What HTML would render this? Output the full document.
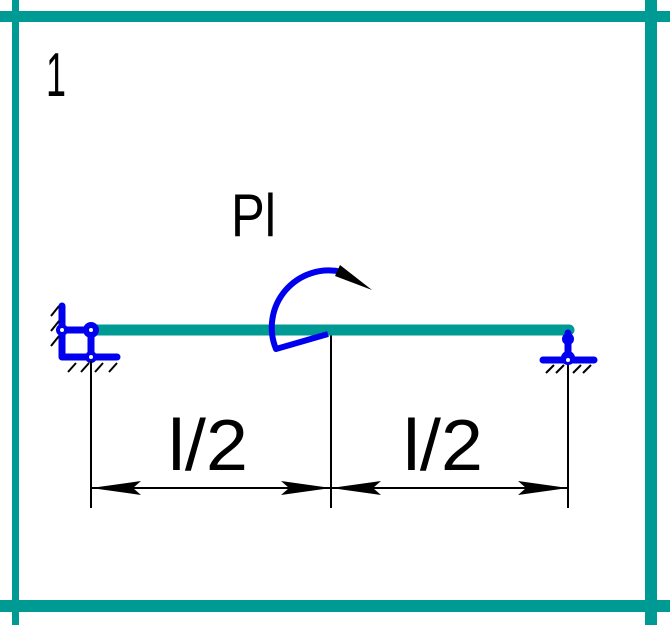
<!DOCTYPE html>
<html><head><meta charset="utf-8"><style>
html,body{margin:0;padding:0;background:#fff;}
svg{display:block;}
text{font-family:"Liberation Sans",sans-serif;fill:#000;}
</style></head><body>
<svg width="670" height="625" viewBox="0 0 670 625" xmlns="http://www.w3.org/2000/svg">
<rect x="0" y="11" width="670" height="11" fill="#009a94"/>
<rect x="0" y="600" width="670" height="12" fill="#009a94"/>
<rect x="12" y="0" width="7" height="625" fill="#009a94"/>
<rect x="645" y="0" width="12" height="625" fill="#009a94"/>
<text x="46" y="96" font-size="62" textLength="20" lengthAdjust="spacingAndGlyphs">1</text>
<g stroke="#000" stroke-width="2" fill="none">
<line x1="91" y1="356" x2="91" y2="508"/>
<line x1="331" y1="335" x2="331" y2="508"/>
<line x1="568" y1="360" x2="568" y2="508"/>
<line x1="91" y1="488" x2="568" y2="488"/>
</g>
<g fill="#000">
<polygon points="91,488 141,481 133,488 141,495"/>
<polygon points="331,488 281,481 289,488 281,495"/>
<polygon points="331,488 381,481 373,488 381,495"/>
<polygon points="568,488 518,481 526,488 518,495"/>
</g>
<text x="168" y="470" font-size="72" textLength="80" lengthAdjust="spacingAndGlyphs">l/2</text>
<text x="403" y="470" font-size="72" textLength="80" lengthAdjust="spacingAndGlyphs">l/2</text>
<text x="231" y="236" font-size="60" textLength="45" lengthAdjust="spacingAndGlyphs">Pl</text>
<line x1="91" y1="330" x2="569" y2="330" stroke="#009a94" stroke-width="11" stroke-linecap="round"/>
<path d="M328,334 L276,349 A57,57 0 0 1 342,272" stroke="#0000ee" stroke-width="6" fill="none" stroke-linejoin="round"/>
<polygon points="340,265 372,290 335,276" fill="#000"/>
<g stroke="#0000ee" stroke-width="7" fill="none" stroke-linecap="round">
<line x1="62" y1="306" x2="62" y2="356"/>
<line x1="62" y1="357" x2="117" y2="357"/>
<line x1="62" y1="330" x2="91" y2="330"/>
<line x1="91" y1="330" x2="91" y2="356"/>
</g>
<g fill="#0000ee"><circle cx="62" cy="330" r="6"/><circle cx="91" cy="330" r="8"/><circle cx="91" cy="357" r="6"/></g>
<g fill="#fff"><circle cx="62" cy="330" r="2"/><circle cx="91" cy="330" r="2"/><circle cx="91" cy="357" r="2"/></g>
<g stroke="#000" stroke-width="2">
<line x1="51" y1="316" x2="59" y2="306"/><line x1="51" y1="331" x2="59" y2="321"/><line x1="51" y1="346" x2="59" y2="336"/>
<line x1="68" y1="372" x2="76" y2="363"/><line x1="81" y1="372" x2="89" y2="363"/><line x1="95" y1="372" x2="103" y2="363"/><line x1="109" y1="372" x2="117" y2="363"/>
<line x1="91" y1="361" x2="91" y2="380"/>
</g>
<g stroke="#0000ee" stroke-width="7" fill="none" stroke-linecap="round">
<line x1="568" y1="333" x2="568" y2="357"/>
<line x1="543" y1="360" x2="594" y2="360"/>
</g>
<g fill="#0000ee"><circle cx="568" cy="339" r="6"/><circle cx="568" cy="358" r="7"/></g>
<circle cx="568" cy="360" r="2" fill="#fff"/>
<g stroke="#000" stroke-width="2">
<line x1="546" y1="373" x2="554" y2="365"/><line x1="556" y1="373" x2="564" y2="365"/><line x1="573" y1="373" x2="581" y2="365"/><line x1="583" y1="373" x2="591" y2="365"/>
</g>
</svg>
</body></html>
